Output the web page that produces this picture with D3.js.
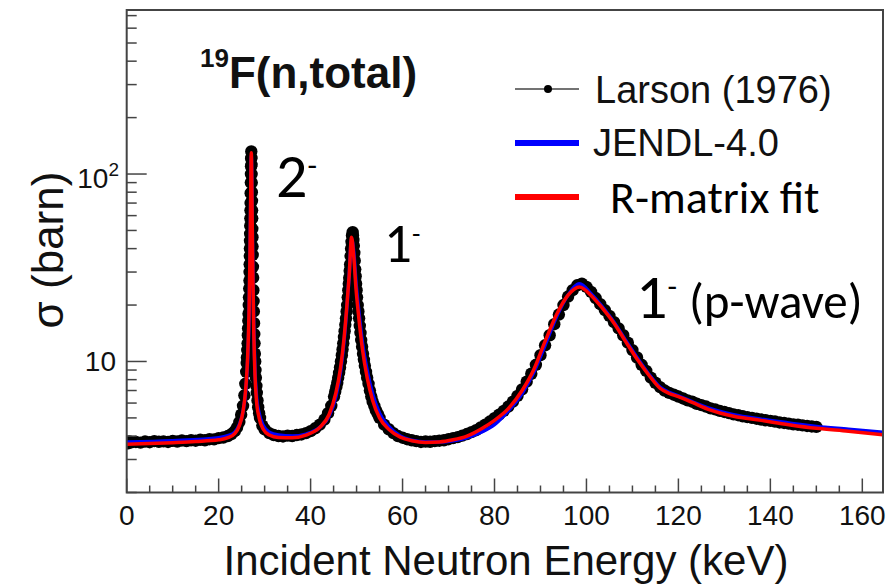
<!DOCTYPE html>
<html>
<head>
<meta charset="utf-8">
<script src="https://cdn.jsdelivr.net/npm/d3@7"></script>
<style>
  body { margin: 0; background: #fff; }
  svg { display: block; }
  .axis-text { font-family: "Liberation Sans", Arial, Helvetica, sans-serif; fill: #111; }
  .calib { font-family: Carlito, Calibri, Lato, sans-serif; fill: #000; }
</style>
</head>
<body>
<div id="chart"></div>
<script>
// R-matrix fit (red)
const fitEnergy = [0, 5, 10, 15, 20, 22, 23.5, 24.5, 25.3, 25.9, 26.3, 26.6, 26.8, 26.95, 27.05, 27.1, 27.2, 27.3, 27.45, 27.65, 27.9, 28.2, 28.8, 29.7, 31, 33, 36, 39, 42, 44, 45.5, 46.5, 47.3, 47.9, 48.4, 48.9, 49.4, 49.9, 50.5, 51.3, 52.3, 53.5, 55, 57, 59.5, 62, 65, 68, 71, 74, 77, 80, 83, 86, 88.5, 91, 93.5, 96, 98.5, 101, 103.5, 106, 108.5, 111, 113.5, 116, 118, 120, 123, 127, 132, 138, 144, 150, 157, 164.5];
const fitSigma = [3.62, 3.65, 3.69, 3.74, 3.82, 3.92, 4.12, 4.55, 5.4, 7.2, 10.5, 18, 35, 70, 118, 130, 100, 55, 28, 14, 8.5, 6.3, 5.0, 4.35, 4.05, 3.93, 3.92, 4.05, 4.45, 5.2, 6.8, 9.2, 13.5, 20, 29, 46, 36, 24, 17, 11.5, 8.2, 6.2, 5.0, 4.35, 3.95, 3.78, 3.7, 3.72, 3.82, 4.0, 4.35, 4.85, 5.6, 7.0, 9.0, 12.8, 17.8, 22.6, 25.0, 22.5, 19.2, 16.0, 12.8, 10.3, 8.5, 7.2, 6.75, 6.5, 6.05, 5.5, 5.1, 4.85, 4.6, 4.4, 4.25, 4.07];

// JENDL-4.0 (blue)
const jendlEnergy = [0, 10, 20, 22, 23.5, 24.5, 25.3, 25.9, 26.3, 26.6, 26.8, 26.95, 27.05, 27.1, 27.2, 27.3, 27.45, 27.65, 27.9, 28.2, 28.8, 29.7, 31, 33, 36, 39, 42, 44, 45.5, 46.5, 47.3, 47.9, 48.4, 48.9, 49.4, 49.9, 50.5, 51.3, 52.3, 53.5, 55, 57, 59.5, 62, 65, 68, 71, 74, 77, 80, 83, 86, 88.5, 91, 93.5, 96, 98.5, 101, 103.5, 106, 108.5, 111, 113.5, 116, 118, 120, 123, 127, 132, 138, 144, 150, 157, 164.5];
const jendlSigma = [3.72, 3.78, 3.92, 4.02, 4.2, 4.6, 5.4, 7.0, 10, 17, 33, 65, 110, 125, 95, 55, 29, 15, 9, 6.7, 5.3, 4.55, 4.2, 4.05, 4.0, 4.1, 4.45, 5.1, 6.5, 8.8, 13, 19.5, 29, 45, 38, 26, 18.5, 12.5, 9.0, 6.7, 5.3, 4.5, 4.0, 3.8, 3.72, 3.72, 3.78, 3.92, 4.18, 4.6, 5.45, 6.75, 8.7, 12.2, 17.3, 22.6, 26.0, 23, 19.5, 16.2, 13, 10.5, 8.6, 7.3, 6.85, 6.55, 6.1, 5.6, 5.2, 4.92, 4.7, 4.5, 4.35, 4.19];

// Larson (1976) measured points
const larsonEnergy = [0, 0.3, 0.6, 1, 2, 3, 4, 5, 6, 7, 8, 9, 10, 11, 12, 13, 14, 15, 16, 17, 18, 19, 20, 21, 22, 22.8, 23.5, 24, 24.5, 24.9, 25.3, 25.6, 25.8,
  26.0, 26.1, 26.15, 26.22, 26.3, 26.35, 26.4, 26.45, 26.5, 26.55, 26.6, 26.65, 26.7, 26.72, 26.75, 26.78, 26.8, 26.82, 26.85, 26.87, 26.9, 26.92, 26.95, 26.97, 27.0, 27.02, 27.05, 27.07, 27.1, 27.12, 27.15, 27.17, 27.2, 27.22, 27.25, 27.27, 27.3, 27.32, 27.35, 27.37, 27.4, 27.45, 27.5, 27.55, 27.6, 27.65, 27.7, 27.75, 27.8, 27.87, 27.95, 28.02, 28.1, 28.2, 28.3, 28.45, 28.6, 28.8, 29.0,
  29.5, 30, 31, 32, 33, 34, 35, 36, 37, 38, 39, 40, 41, 42, 43, 43.8, 44.5,
  45.1, 45.35, 45.6, 45.8, 46.0, 46.2, 46.4, 46.6, 46.8, 46.95, 47.1, 47.25, 47.4, 47.55, 47.7, 47.83, 47.95, 48.08, 48.2, 48.3, 48.4, 48.5, 48.6, 48.7, 48.8, 48.9, 49.0, 49.15, 49.22, 49.3, 49.4, 49.5, 49.6, 49.7, 49.8, 49.9, 50.0, 50.1, 50.25, 50.4, 50.55, 50.7, 50.85, 51.0, 51.2, 51.4, 51.6, 51.8, 52.05, 52.3, 52.6, 52.9, 53.2, 53.5, 53.85, 54.2, 54.6, 55,
  56, 57, 58, 59, 60, 61, 62, 63, 64, 65, 66, 67, 68, 69, 70, 71, 72, 73, 74, 75, 76, 77, 78, 79, 80, 81, 82, 83, 84, 85, 86, 87, 88, 89, 90, 91, 92, 93, 94, 95, 96, 97, 98, 99, 100, 101, 102, 103, 104, 105, 106, 107, 108, 109, 110, 111, 112, 113, 114, 115, 116, 117, 118, 119, 120, 121, 122, 123, 124, 125, 126, 127, 128, 129, 130, 131, 132, 133, 134, 135, 136, 137, 138, 139, 140, 141, 142, 143, 144, 145, 146, 147, 148, 149, 150];
const larsonSigma = [3.72, 3.66, 3.75, 3.70, 3.72, 3.69, 3.74, 3.71, 3.76, 3.73, 3.75, 3.72, 3.77, 3.74, 3.79, 3.76, 3.80, 3.78, 3.82, 3.80, 3.85, 3.84, 3.90, 3.93, 4.0, 4.1, 4.25, 4.45, 4.75, 5.2, 5.8, 6.6, 7.6,
  8.8, 9.8, 10.5, 11.5, 12.5, 13.8, 15, 16.5, 18, 20, 22, 24.5, 27, 30, 33, 36.5, 40, 44, 48, 53, 58, 64, 70, 79, 90, 100, 110, 121, 132, 122, 112, 100, 90, 80, 72, 64, 58, 51, 46, 41, 37, 32, 28, 24, 21, 18.5, 16, 14, 12.5, 11, 10, 9, 8.2, 7.4, 6.8, 6.2, 5.7, 5.3, 5.0,
  4.55, 4.35, 4.15, 4.05, 4.0, 3.98, 4.02, 4.0, 4.05, 4.08, 4.15, 4.25, 4.4, 4.6, 4.9, 5.3, 5.8,
  6.5, 6.9, 7.3, 7.7, 8.2, 8.7, 9.3, 10.0, 10.8, 11.6, 12.5, 13.5, 14.5, 15.7, 17, 18.5, 20, 22, 24, 26, 28, 30.5, 33, 36.5, 40, 43.5, 47, 49, 47, 44.5, 41.5, 38, 34.5, 31, 28.5, 26, 24, 22, 20, 18.5, 17, 15.5, 14.2, 13, 12, 11, 10.2, 9.5, 8.8, 8.2, 7.6, 7.0, 6.5, 6.1, 5.8, 5.5, 5.25, 5.0,
  4.6, 4.35, 4.15, 4.0, 3.92, 3.85, 3.8, 3.76, 3.72, 3.74, 3.73, 3.76, 3.78, 3.8, 3.85, 3.9, 3.95, 4.02, 4.1, 4.2, 4.3, 4.45, 4.6, 4.78, 4.98, 5.2, 5.45, 5.75, 6.1, 6.55, 7.1, 7.8, 8.6, 9.6, 10.8, 12.2, 13.8, 15.8, 17.8, 20, 22.2, 24, 25.5, 26, 25, 23.5, 21.8, 20.2, 18.8, 17.5, 16.2, 15, 13.8, 12.6, 11.5, 10.5, 9.6, 8.9, 8.2, 7.7, 7.3, 7.0, 6.8, 6.65, 6.5, 6.35, 6.2, 6.1, 5.95, 5.85, 5.75, 5.62, 5.55, 5.45, 5.38, 5.3, 5.22, 5.17, 5.1, 5.05, 5.0, 4.95, 4.9, 4.86, 4.82, 4.78, 4.73, 4.7, 4.66, 4.62, 4.6, 4.56, 4.53, 4.5, 4.48];

const xMajorTicks = [0, 20, 40, 60, 80, 100, 120, 140, 160];
const yMajorTicks = [10, 100];
const legendLabels = ['Larson (1976)', 'JENDL-4.0', 'R-matrix fit'];

const W = 889, H = 585;
const m = { left: 126.7, right: 6, top: 10, bottom: 92.5 };

const svg = d3.select('#chart').append('svg')
  .attr('width', W)
  .attr('height', H);

const x = d3.scaleLinear().domain([0, 164.5]).range([m.left, W - m.right]);
const y = d3.scaleLog().domain([2, 750]).range([H - m.bottom, m.top]);

svg.append('clipPath').attr('id', 'plotclip')
  .append('rect')
  .attr('x', m.left).attr('y', m.top)
  .attr('width', W - m.right - m.left)
  .attr('height', H - m.bottom - m.top);

const plot = svg.append('g').attr('clip-path', 'url(#plotclip)');

// Larson points, thin line underneath
const larson = larsonEnergy.map((e, i) => [e, larsonSigma[i]]);
plot.append('path')
  .datum(larson)
  .attr('fill', 'none')
  .attr('stroke', '#000')
  .attr('stroke-width', 1.5)
  .attr('d', d3.line().x(d => x(d[0])).y(d => y(d[1])));
plot.selectAll('circle.larson')
  .data(larson)
  .enter()
  .append('circle')
  .attr('class', 'larson')
  .attr('cx', d => x(d[0]))
  .attr('cy', d => y(d[1]))
  .attr('r', 6.2)
  .attr('fill', '#000');

const curve = d3.line().curve(d3.curveMonotoneX).x(d => x(d[0])).y(d => y(d[1]));

plot.append('path')
  .datum(jendlEnergy.map((e, i) => [e, jendlSigma[i]]))
  .attr('fill', 'none')
  .attr('stroke', '#0000ff')
  .attr('stroke-width', 3.5)
  .attr('d', curve);

plot.append('path')
  .datum(fitEnergy.map((e, i) => [e, fitSigma[i]]))
  .attr('fill', 'none')
  .attr('stroke', '#ff0000')
  .attr('stroke-width', 3.5)
  .attr('d', curve);

// frame
svg.append('rect')
  .attr('x', m.left).attr('y', m.top)
  .attr('width', W - m.right - m.left)
  .attr('height', H - m.bottom - m.top)
  .attr('fill', 'none')
  .attr('stroke', '#444')
  .attr('stroke-width', 2);

// x ticks, inside pointing up
const xb = H - m.bottom;
const xMinor = d3.range(0, 165, 5).filter(v => v % 20 !== 0);
svg.selectAll('line.xmaj').data(xMajorTicks).enter().append('line')
  .attr('x1', d => x(d)).attr('x2', d => x(d))
  .attr('y1', xb).attr('y2', xb - 14)
  .attr('stroke', '#444').attr('stroke-width', 1.5);
svg.selectAll('line.xmin').data(xMinor).enter().append('line')
  .attr('x1', d => x(d)).attr('x2', d => x(d))
  .attr('y1', xb).attr('y2', xb - 7)
  .attr('stroke', '#444').attr('stroke-width', 1.5);
svg.selectAll('text.xlab').data(xMajorTicks).enter().append('text')
  .attr('class', 'axis-text')
  .attr('x', d => x(d)).attr('y', 525)
  .attr('text-anchor', 'middle')
  .style('font-size', '28px')
  .text(d => d);

// y ticks, inside pointing right
const yMinor = [2, 3, 4, 5, 6, 7, 8, 9, 20, 30, 40, 50, 60, 70, 80, 90, 200, 300, 400, 500, 600, 700];
svg.selectAll('line.ymaj').data(yMajorTicks).enter().append('line')
  .attr('x1', m.left).attr('x2', m.left + 20)
  .attr('y1', d => y(d)).attr('y2', d => y(d))
  .attr('stroke', '#444').attr('stroke-width', 1.5);
svg.selectAll('line.ymin').data(yMinor).enter().append('line')
  .attr('x1', m.left).attr('x2', m.left + 10)
  .attr('y1', d => y(d)).attr('y2', d => y(d))
  .attr('stroke', '#444').attr('stroke-width', 1.5);

svg.append('text').attr('class', 'axis-text')
  .attr('x', 116).attr('y', y(10) + 10)
  .attr('text-anchor', 'end')
  .style('font-size', '28px')
  .text('10');
const t100 = svg.append('text').attr('class', 'axis-text')
  .attr('x', 119).attr('y', y(100) + 14)
  .attr('text-anchor', 'end')
  .style('font-size', '28px');
t100.append('tspan').text('10');
t100.append('tspan').attr('dy', -12).style('font-size', '19px').text('2');

// axis titles
svg.append('text').attr('class', 'axis-text')
  .attr('x', 506).attr('y', 575)
  .attr('text-anchor', 'middle')
  .style('font-size', '42px')
  .text('Incident Neutron Energy (keV)');
svg.append('text').attr('class', 'axis-text')
  .attr('transform', 'translate(63,250) rotate(-90)')
  .attr('text-anchor', 'middle')
  .style('font-size', '44px')
  .text('σ (barn)');

// title
const title = svg.append('text').attr('class', 'axis-text')
  .attr('x', 200).attr('y', 88)
  .style('font-weight', 'bold');
title.append('tspan').attr('dy', -21).style('font-size', '26px').text('19');
title.append('tspan').attr('dy', 21).style('font-size', '44px').text('F(n,total)');

// legend
const legY = [89, 143, 197];
const lg = svg.append('g');
lg.append('line').attr('x1', 515).attr('x2', 579).attr('y1', legY[0]).attr('y2', legY[0])
  .attr('stroke', '#444').attr('stroke-width', 1.5);
lg.append('circle').attr('cx', 548).attr('cy', legY[0]).attr('r', 4).attr('fill', '#000');
lg.append('line').attr('x1', 515).attr('x2', 579).attr('y1', legY[1]).attr('y2', legY[1])
  .attr('stroke', '#0000ff').attr('stroke-width', 6);
lg.append('line').attr('x1', 515).attr('x2', 579).attr('y1', legY[2]).attr('y2', legY[2])
  .attr('stroke', '#ff0000').attr('stroke-width', 6);
lg.append('text').attr('class', 'axis-text').attr('x', 595).attr('y', 102.5)
  .style('font-size', '38px').text(legendLabels[0]);
lg.append('text').attr('class', 'axis-text').attr('x', 593).attr('y', 155.5)
  .style('font-size', '38px').text(legendLabels[1]);
lg.append('text').attr('class', 'calib').attr('x', 610).attr('y', 213)
  .style('font-size', '46px').text(legendLabels[2]);

// resonance labels J^pi
function spin(xp, yp, size, main, extra, extraSize, gap) {
  const t = svg.append('text').attr('class', 'calib')
    .attr('x', xp).attr('y', yp)
    .style('font-size', size + 'px');
  t.append('tspan').text(main);
  t.append('tspan').attr('dy', -size * 0.34).style('font-size', (size * 0.5) + 'px').text('-');
  if (extra) {
    t.append('tspan').attr('dy', size * 0.34).attr('dx', gap)
      .style('font-size', extraSize + 'px').text(extra);
  }
}
spin(276, 197, 62, '2');
spin(384, 262, 55, '1');
spin(636, 318, 62, '1', '(p-wave)', 49, 12);
</script>
</body>
</html>
